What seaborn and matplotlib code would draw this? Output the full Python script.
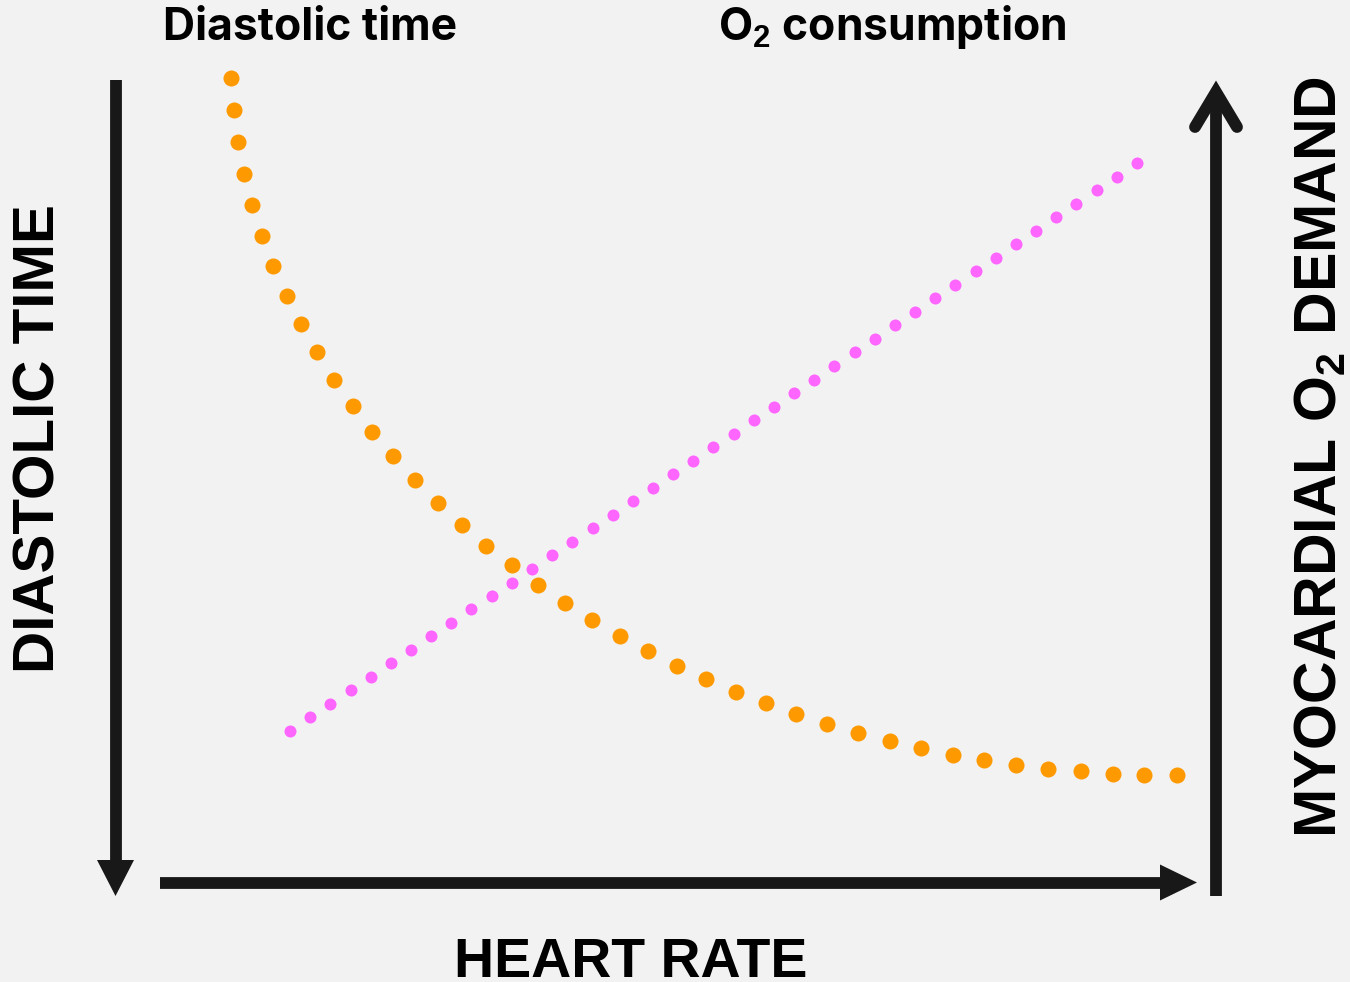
import numpy as np
import pandas as pd
import matplotlib.pyplot as plt
import seaborn as sns

# dots (canvas units, y grows downward)
diastolic_x = [231, 234, 238, 244, 252, 262, 273, 286.7, 301, 316.7, 334, 352.7, 372.3, 393.3,
               415, 438, 461.7, 486.3, 511.7, 537.7, 564.7, 591.7, 619.7, 648, 677, 706.3,
               736, 766, 796.3, 827.3, 858, 889.7, 921, 952.7, 984.3, 1016, 1048.3, 1080.7,
               1113, 1144, 1177]
diastolic_y = [78, 110, 142, 174, 205, 236, 266, 295.7, 324.3, 352.3, 379.7, 406.3, 431.7, 456.3,
               480, 502.7, 524.7, 545.7, 565.3, 584.5, 602.7, 620, 636, 651.3, 665.7, 679,
               691.7, 703.3, 714, 724, 733, 741, 748.3, 754.7, 760, 765, 768.7, 771.3,
               773.7, 775, 775]

o2_x = [290, 310.3, 330.3, 350.7, 370.7, 391, 411, 431, 451.3, 471.3, 491.7, 511.7, 532, 552.3,
        572.3, 592.7, 612.7, 632.7, 653, 673.3, 693.3, 713.3, 733.7, 753.7, 774, 794, 814.3,
        834.3, 854.7, 874.7, 895, 915, 935.3, 955.3, 975.7, 995.7, 1015.7, 1036, 1056.3,
        1076.3, 1096.7, 1116.7, 1136.7]
o2_y = [731, 717.3, 704, 690.3, 677, 663.3, 650, 636.3, 622.7, 609.3, 595.7, 582.7, 569, 555,
        541.7, 528, 514.5, 501, 487.7, 474, 460.7, 447, 433.7, 420, 406.7, 393, 379.7,
        366, 352.3, 339, 325.3, 312, 298.3, 285, 271.3, 258, 244.3, 231, 217.3,
        203.7, 190.3, 176.7, 163.3]

labels = {
    "top_left": "Diastolic time",
    "top_right": "O$_2$ consumption",
    "bottom": "HEART RATE",
    "left": "DIASTOLIC TIME",
    "right": "MYOCARDIAL O$_2$ DEMAND",
}

BG = "#f2f2f2"
INK = "#181818"
ORANGE = "#ff9900"
PINK = "#ff66ff"

sns.set_theme(style="white")
plt.rcParams["font.family"] = ["Liberation Sans", "DejaVu Sans"]
plt.rcParams["mathtext.fontset"] = "custom"
plt.rcParams["mathtext.rm"] = "Liberation Sans:bold"
plt.rcParams["mathtext.default"] = "rm"

df_dia = pd.DataFrame({"x": diastolic_x, "y": diastolic_y})
df_o2 = pd.DataFrame({"x": o2_x, "y": o2_y})

fig = plt.figure(figsize=(13.5, 9.82), dpi=100, facecolor=BG)
ax = fig.add_axes([0, 0, 1, 1])
ax.set_facecolor(BG)
ax.set_xlim(0, 1350)
ax.set_ylim(982, 0)
ax.axis("off")

sns.scatterplot(data=df_o2, x="x", y="y", ax=ax, color=PINK, s=75, linewidth=0, zorder=3)
sns.scatterplot(data=df_dia, x="x", y="y", ax=ax, color=ORANGE, s=133, linewidth=0, zorder=4)

lw = 8.5
# left arrow (down)
ax.plot([115.5, 115.5], [80, 862], color=INK, lw=lw, solid_capstyle="butt")
ax.fill([97, 134, 115.5], [860, 860, 896], color=INK, lw=0)
# bottom arrow (right)
ax.plot([160, 1162], [882.5, 882.5], color=INK, lw=lw, solid_capstyle="butt")
ax.fill([1160, 1160, 1197], [864.5, 900.5, 882.5], color=INK, lw=0)
# right arrow (up, open head)
ax.plot([1216, 1216], [896, 92], color=INK, lw=lw, solid_capstyle="butt")
ax.plot([1195, 1216, 1237], [127, 92, 127], color=INK, lw=lw,
        solid_capstyle="round", solid_joinstyle="miter")

top_font = ["Inter", "DejaVu Sans"]
ax.text(163, 40, labels["top_left"], family=top_font, fontweight="bold",
        fontsize=32, ha="left", va="baseline", color="black")
ax.text(718, 40, labels["top_right"], family=top_font, fontweight="bold",
        fontsize=32, ha="left", va="baseline", color="black")

ax.text(631, 977, labels["bottom"], fontweight="bold", fontsize=40,
        ha="center", va="baseline", color="black")
ax.text(40, 439, labels["left"], fontweight="bold", fontsize=42,
        rotation=90, ha="center", va="center", color="black")
ax.text(1321, 457, labels["right"], fontweight="bold", fontsize=42.5,
        rotation=90, ha="center", va="center", color="black")

fig.savefig("out.png", dpi=100, facecolor=BG)
